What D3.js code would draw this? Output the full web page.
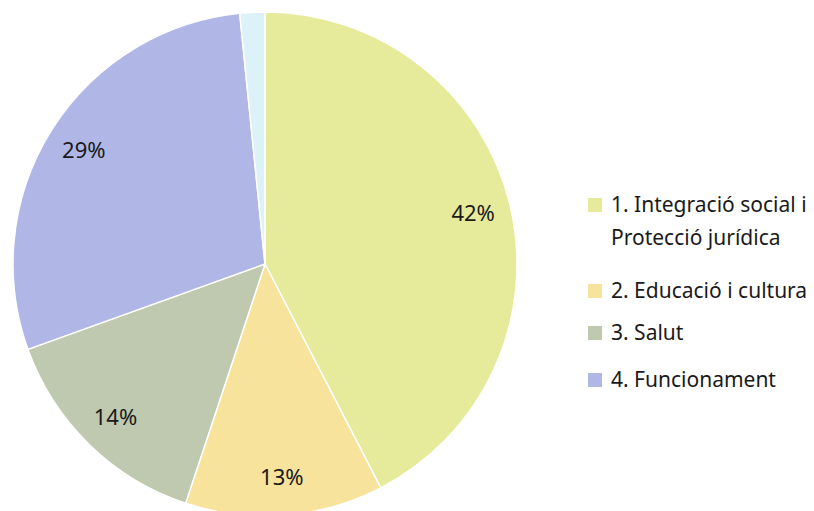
<!DOCTYPE html>
<html>
<head>
<meta charset="utf-8">
<script src="https://cdn.jsdelivr.net/npm/d3@7"></script>
<style>
  body { margin: 0; background: #fff; }
  svg { display: block; font-family: "Noto Sans", sans-serif; }
</style>
</head>
<body>
<svg id="chart" width="814" height="511"></svg>
<script>
// slice data
var categories = ["1. Integració social i|Protecció jurídica", "2. Educació i cultura", "3. Salut", "4. Funcionament", "Altres"];
var values = [42.4, 12.7, 14.4, 28.9, 1.6];
var labels = ["42%", "13%", "14%", "29%", ""];
var colors = ["#e6eb9b", "#f8e39c", "#bec9b0", "#b0b7e7", "#ddf1f8"];
var legendCount = 4;

var svg = d3.select("#chart");
var cx = 265, cy = 264, radius = 252;

var pie = d3.pie().sort(null).value(function(d) { return d; });
var arcs = pie(values);

var arc = d3.arc().innerRadius(0).outerRadius(radius);
var labelArc = d3.arc().innerRadius(radius * 0.85).outerRadius(radius * 0.85);

var g = svg.append("g").attr("transform", "translate(" + cx + "," + cy + ")");

g.selectAll(".slice")
  .data(arcs)
  .enter().append("path")
  .attr("class", "slice")
  .attr("d", arc)
  .attr("fill", function(d, i) { return colors[i]; })
  .attr("stroke", "#fff")
  .attr("stroke-width", 1.5);

g.selectAll(".lbl")
  .data(arcs)
  .enter().append("text")
  .attr("class", "lbl")
  .attr("x", function(d) { return labelArc.centroid(d)[0]; })
  .attr("y", function(d) { return labelArc.centroid(d)[1]; })
  .attr("text-anchor", "middle")
  .attr("dy", "0.36em")
  .attr("font-size", 22)
  .attr("fill", "#1a1a1a")
  .text(function(d, i) { return labels[i]; });

// legend
var legendY = [212, 298, 340, 387];
var legend = svg.append("g");
var items = legend.selectAll(".item")
  .data(categories.slice(0, legendCount))
  .enter().append("g")
  .attr("class", "item")
  .attr("transform", function(d, i) { return "translate(588," + legendY[i] + ")"; });

items.append("rect")
  .attr("x", 0)
  .attr("y", -14)
  .attr("width", 14)
  .attr("height", 14)
  .attr("fill", function(d, i) { return colors[i]; });

items.append("text")
  .attr("font-size", 21)
  .attr("fill", "#1a1a1a")
  .each(function(d) {
    var t = d3.select(this);
    d.split("|").forEach(function(line, j) {
      t.append("tspan").attr("x", 23).attr("y", j * 33).text(line);
    });
  });
</script>
</body>
</html>
